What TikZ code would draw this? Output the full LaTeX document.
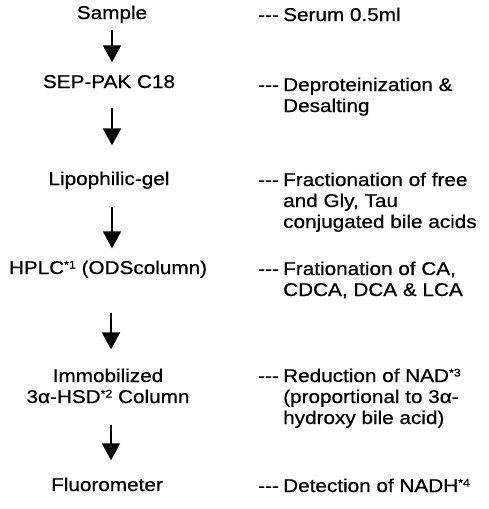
\documentclass[tikz,border=0pt]{standalone}
\usepackage{fontspec}
\setmainfont{Liberation Sans}[FakeStretch=1.12, FakeBold=0.6]
\usetikzlibrary{arrows.meta}
\newcommand{\sps}[1]{{\fontsize{11}{11}\selectfont\raisebox{5.5pt}{#1}}}
\begin{document}
\begin{tikzpicture}[x=1pt,y=-1pt,
  lbl/.style={inner sep=0pt, font=\fontsize{18.5}{21}\selectfont},
  step1/.style={lbl, anchor=base, align=center},
  one/.style={step1, text height=13.5pt, text depth=4pt},
  dsh/.style={lbl, anchor=base west},
  note/.style={lbl, anchor=base west, align=left},
  arr/.style={line width=1.8pt, -{Triangle[width=18pt,length=17pt]}}]
\useasboundingbox (0,0) rectangle (489,509);
% left column (multi-line nodes are placed by their last baseline)
\node[one] (sample) at (112,19) {Sample};
\node[one] (sep) at (109,88) {SEP-PAK C18};
\node[one] (lipo) at (109,185) {Lipophilic-gel};
\node[one] (hplc) at (108,274) {HPLC\sps{*1} (ODScolumn)};
\node[step1] (immo) at (108,403) {Immobilized\\3α-HSD\sps{*2} Column};
\node[one] (fluo) at (107,491) {Fluorometer};
% arrows
\draw[arr, shorten <=7pt, shorten >=12pt] ([xshift=0pt]sample.south) -- ([xshift=3pt]sep.north);
\draw[arr, shorten <=16pt, shorten >=26pt] ([xshift=3pt]sep.south) -- ([xshift=3pt]lipo.north);
\draw[arr, shorten <=18pt, shorten >=12pt] ([xshift=3pt]lipo.south) -- ([xshift=4pt]hplc.north);
\draw[arr, shorten <=35pt, shorten >=19pt] ([xshift=3pt]hplc.south) -- ([xshift=3pt]immo.north);
\draw[arr, shorten <=22pt, shorten >=17pt] ([xshift=3pt]immo.south) -- ([xshift=4pt]fluo.north);
% right column
\node[dsh] (d1) at (258,21) {-{}-{}-};
\node[note] (n1) at (283,21) {Serum 0.5ml};
\node[dsh] (d2) at (258,91) {-{}-{}-};
\node[note] (n2) at (283,112) {Deproteinization \&\\Desalting};
\node[dsh] (d3) at (258,186) {-{}-{}-};
\node[note] (n3) at (283,228) {Fractionation of free\\and Gly, Tau\\conjugated bile acids};
\node[dsh] (d4) at (258,275) {-{}-{}-};
\node[note] (n4) at (283,296) {Frationation of CA,\\CDCA, DCA \& LCA};
\node[dsh] (d5) at (258,382) {-{}-{}-};
\node[note] (n5) at (283,424) {Reduction of NAD\sps{*3}\\(proportional to 3α-\\hydroxy bile acid)};
\node[dsh] (d6) at (258,492) {-{}-{}-};
\node[note] (n6) at (283,492) {Detection of NADH\sps{*4}};
\end{tikzpicture}
\end{document}
